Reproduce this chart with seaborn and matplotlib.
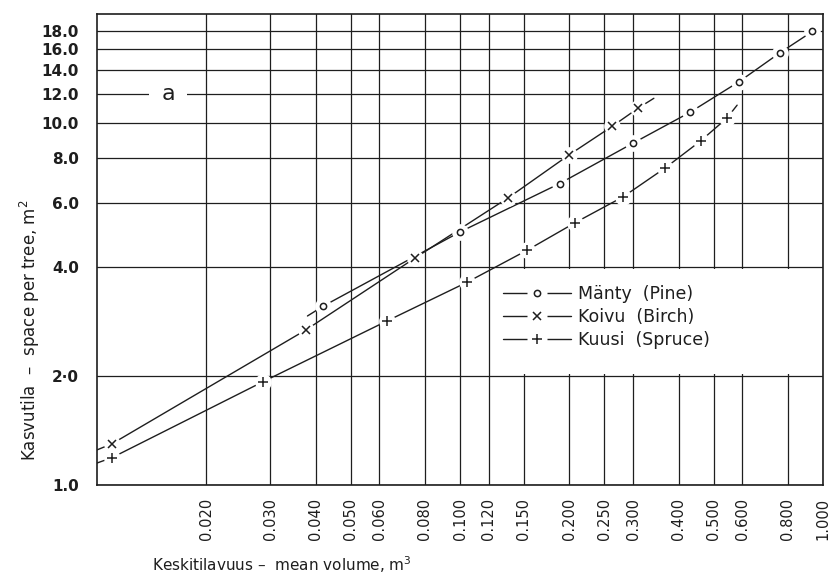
import pandas as pd
import seaborn as sns
import matplotlib.pyplot as plt
from matplotlib.lines import Line2D
from matplotlib.patches import Rectangle
from matplotlib.legend_handler import HandlerTuple

# Axis ticks (log-log paper)
vol_ticks = [0.02, 0.03, 0.04, 0.05, 0.06, 0.08, 0.10, 0.12, 0.15, 0.20,
             0.25, 0.30, 0.40, 0.50, 0.60, 0.80, 1.00]
vol_labels = ['0.020', '0.030', '0.040', '0.050', '0.060', '0.080', '0.100',
              '0.120', '0.150', '0.200', '0.250', '0.300', '0.400', '0.500',
              '0.600', '0.800', '1.000']
space_ticks = [1, 2, 4, 6, 8, 10, 12, 14, 16, 18]
space_labels = ['1.0', '2·0', '4.0', '6.0', '8.0', '10.0', '12.0', '14.0',
                '16.0', '18.0']

# Mänty (Pine) - marked points and where the drawn curve starts/ends
pine_vol = [0.042, 0.100, 0.188, 0.300, 0.430, 0.587, 0.759, 0.935]
pine_space = [3.12, 5.00, 6.80, 8.80, 10.7, 13.0, 15.6, 17.9]
pine_start = (0.038, 2.93)
pine_end = (0.935, 17.9)

# Koivu (Birch)
birch_vol = [0.011, 0.0376, 0.075, 0.136, 0.200, 0.263, 0.310]
birch_space = [1.30, 2.68, 4.23, 6.22, 8.17, 9.80, 11.0]
birch_start = (0.010, 1.25)
birch_end = (0.342, 11.7)

# Kuusi (Spruce)
spruce_vol = [0.011, 0.0287, 0.063, 0.1045, 0.153, 0.208, 0.282, 0.368, 0.460, 0.543]
spruce_space = [1.19, 1.93, 2.84, 3.63, 4.45, 5.31, 6.26, 7.52, 8.92, 10.3]
spruce_start = (0.010, 1.15)
spruce_end = (0.580, 11.2)

series = [
    ('Mänty  (Pine)', pine_vol, pine_space, pine_start, pine_end, 'o', 4.5),
    ('Koivu  (Birch)', birch_vol, birch_space, birch_start, birch_end, 'x', 6.0),
    ('Kuusi  (Spruce)', spruce_vol, spruce_space, spruce_start, spruce_end, '+', 7.0),
]

sns.set_theme(style='white')
plt.rcParams['font.family'] = ['DejaVu Sans']
ink = '#1e1e1e'

fig = plt.figure(figsize=(8.31, 5.83), dpi=100)
ax = fig.add_axes([97 / 831, 1 - 485 / 583, 726 / 831, 471 / 583])
ax.set_xscale('log')
ax.set_yscale('log')
ax.set_xlim(0.01, 1.0)
ax.set_ylim(1.0, 20.0)

handles = []
for name, vx, vy, start, end, mk, ms in series:
    curve = pd.DataFrame({'vol': [start[0]] + vx + [end[0]],
                          'space': [start[1]] + vy + [end[1]]})
    sns.lineplot(data=curve, x='vol', y='space', sort=False, estimator=None,
                 color=ink, linewidth=1.0, ax=ax, zorder=3)
    # small breaks in the curve around each point
    ax.plot(vx, vy, ls='none', marker='o', ms=12, mfc='white', mec='none', zorder=4)
    ax.plot(vx, vy, ls='none', marker=mk, ms=ms, mfc='white', mec=ink,
            mew=1.1, zorder=5)
    h_line = Line2D([], [], color=ink, lw=1.0)
    h_gap = Line2D([], [], ls='none', marker='s', ms=15, mfc='white', mec='none')
    h_mk = Line2D([], [], ls='none', marker=mk, ms=ms, mfc='white', mec=ink, mew=1.1)
    handles.append(((h_line, h_gap, h_mk), name))

ax.set_xticks(vol_ticks)
ax.set_xticklabels(vol_labels, rotation=90, fontsize=10.5, color=ink)
ax.set_yticks(space_ticks)
ax.set_yticklabels(space_labels, fontsize=11, fontweight='bold', color=ink)
ax.minorticks_off()
ax.tick_params(axis='x', length=0, pad=9)
ax.tick_params(axis='y', length=0, pad=13)
ax.set_xlabel('')
ax.set_ylabel('')

ax.set_axisbelow(True)
ax.grid(True, which='major', color=ink, linewidth=0.9)
for sp in ax.spines.values():
    sp.set_visible(True)
    sp.set_color(ink)
    sp.set_linewidth(1.2)

# blank area of the paper under the key
ax.add_patch(Rectangle((0.1215, 2.02), 0.995 - 0.1215, 3.96 - 2.02,
                       facecolor='white', edgecolor='none', zorder=1))

ax.text(0.0157, 12, 'a', fontsize=16, ha='center', va='center', color=ink,
        bbox=dict(boxstyle='square,pad=0.55', fc='white', ec='none'), zorder=2)

ax.legend([h for h, _ in handles], [n for _, n in handles],
          handler_map={tuple: HandlerTuple(ndivide=1)},
          loc='upper left', bbox_to_anchor=(0.559, 0.425), frameon=False,
          fontsize=12.5, handlelength=3.9, handletextpad=0.45,
          labelspacing=0.3, borderpad=0, borderaxespad=0, labelcolor=ink)

fig.text(152 / 831, 1 - 565 / 583, 'Keskitilavuus –  mean volume, m$^3$',
         fontsize=11, color=ink, ha='left', va='center')
fig.text(30 / 831, 1 - 330 / 583, 'Kasvutila  –  space per tree, m$^2$',
         fontsize=12, color=ink, rotation=90, ha='center', va='center')

fig.savefig('out.png', dpi=100)
